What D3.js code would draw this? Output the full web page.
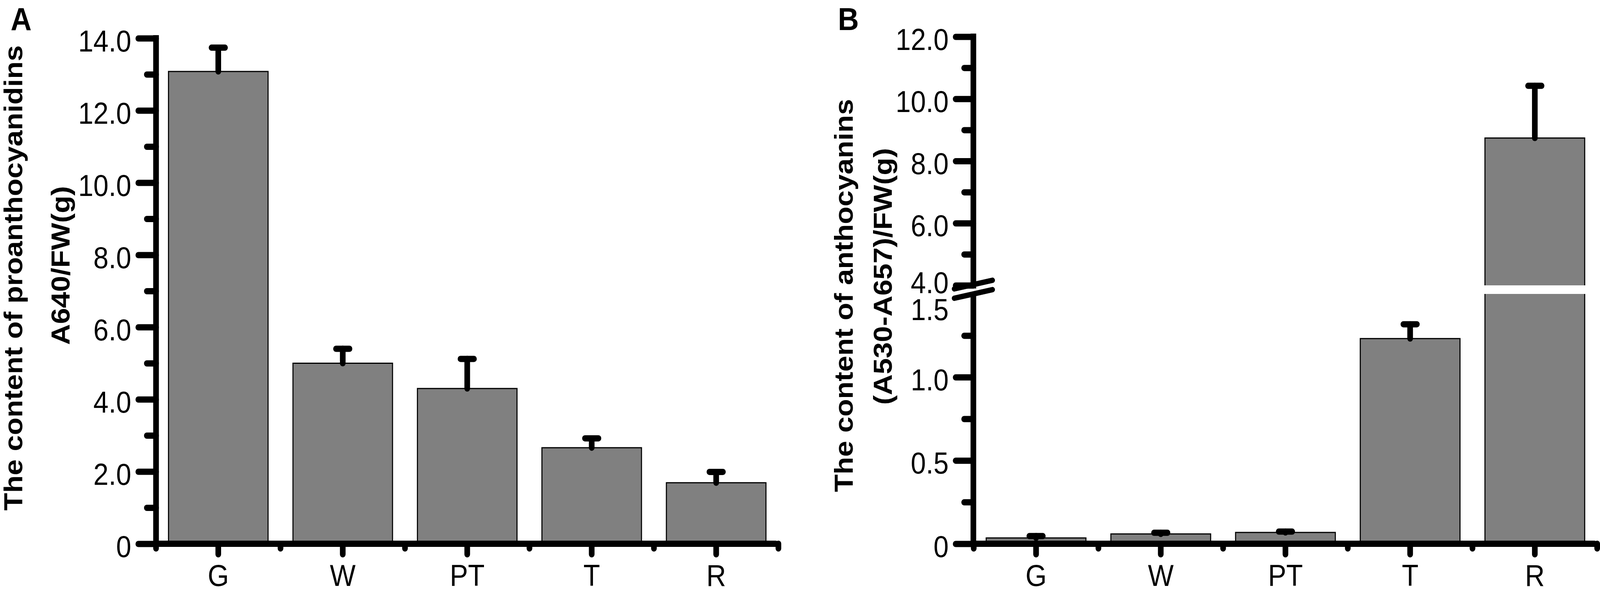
<!DOCTYPE html>
<html lang="en">
<head>
    <meta charset="UTF-8">
    <title>Proanthocyanidins and anthocyanins</title>
    <script src="https://d3js.org/d3.v7.min.js"></script>
    <style>
        html, body { margin: 0; padding: 0; background: #fff; overflow: hidden; }
        #chart-container { width: 100vw; height: 100vh; }
        svg { display: block; font-family: "Liberation Sans", Arial, sans-serif; }
    </style>
</head>
<body>
    <div id="chart-container"></div>

    <script>
        // categories and values
        const categories = ["G", "W", "PT", "T", "R"];

        // panel A: proanthocyanidins, A640/FW(g)
        const proMeans  = [13.08, 5.00, 4.30, 2.66, 1.69];
        const proErrors = [0.66, 0.40, 0.82, 0.26, 0.30];
        const proTicks  = [0, 2, 4, 6, 8, 10, 12, 14];
        const proMinor  = [1, 3, 5, 7, 9, 11, 13];

        // panel B: anthocyanins, (A530-A657)/FW(g), broken axis
        const antMeans  = [0.035, 0.059, 0.068, 1.232, 8.74];
        const antErrors = [0.011, 0.007, 0.005, 0.086, 1.68];
        const antTicksLow  = [0, 0.5, 1.0, 1.5];
        const antMinorLow  = [0.25, 0.75, 1.25];
        const antTicksHigh = [4, 6, 8, 10, 12];
        const antMinorHigh = [5, 7, 9, 11];

        const containerWidth = 4522;
        const containerHeight = 1514;
        const axisY = 1393;      // y of the zero line
        const lineW = 16;        // thick axis strokes
        const fmt = d => d === 0 ? "0" : d.toFixed(1);

        // viewBox so the drawing always fills the window whatever its css size
        const svg = d3.select("#chart-container")
            .append("svg")
            .attr("viewBox", `0 0 ${containerWidth} ${containerHeight}`)
            .attr("preserveAspectRatio", "none")
            .style("width", "100vw")
            .style("height", "100vh");

        svg.append("rect")
            .attr("width", containerWidth)
            .attr("height", containerHeight)
            .attr("fill", "#fff");

        // scales
        const xA = d3.scaleBand().domain(categories).range([441, 2200])
            .paddingInner(0.2).paddingOuter(0.1);
        const yA = d3.scaleLinear().domain([0, 14]).range([axisY, 98]);

        const xB = d3.scaleBand().domain(categories).range([2752, 4514])
            .paddingInner(0.2).paddingOuter(0.1);
        // piecewise scale: 0-1.5 at the bottom, 4-12 above the break
        const yB = d3.scaleLinear().domain([0, 1.5, 4, 12]).range([axisY, 753, 731, 94]);

        function drawBars(x, y, means, errors) {
            const rows = categories.map((c, i) => ({ c: c, v: means[i], e: errors[i] }));
            const g = svg.append("g");
            g.selectAll(".bar")
                .data(rows)
                .enter()
                .append("rect")
                .attr("class", "bar")
                .attr("x", d => x(d.c))
                .attr("width", x.bandwidth())
                .attr("y", d => y(d.v))
                .attr("height", d => y(0) - y(d.v))
                .style("fill", "#808080")
                .style("stroke", "#000")
                .style("stroke-width", 3);
            return rows;
        }

        function drawErrors(x, y, rows) {
            const g = svg.append("g")
                .style("stroke", "#000")
                .style("stroke-width", lineW)
                .style("stroke-linecap", "round");
            g.selectAll(".stem")
                .data(rows)
                .enter()
                .append("line")
                .attr("x1", d => x(d.c) + x.bandwidth() / 2)
                .attr("x2", d => x(d.c) + x.bandwidth() / 2)
                .attr("y1", d => y(d.v))
                .attr("y2", d => y(d.v + d.e));
            g.selectAll(".cap")
                .data(rows)
                .enter()
                .append("line")
                .attr("x1", d => x(d.c) + x.bandwidth() / 2 - 19)
                .attr("x2", d => x(d.c) + x.bandwidth() / 2 + 19)
                .attr("y1", d => y(d.v + d.e))
                .attr("y2", d => y(d.v + d.e));
        }

        function styleAxis(g) {
            g.select(".domain").remove();
            g.attr("font-family", null).attr("font-size", null);
            g.selectAll("line")
                .style("stroke", "#000")
                .style("stroke-width", lineW)
                .style("stroke-linecap", "round");
            g.selectAll("text")
                .style("font-size", "77px")
                .style("fill", "#000");
        }

        function yTicks(x0, y, major, minor) {
            const gMaj = svg.append("g")
                .attr("transform", `translate(${x0},0)`)
                .call(d3.axisLeft(y).tickValues(major).tickSize(50).tickPadding(20).tickFormat(fmt))
                .call(styleAxis);
            gMaj.selectAll("text").attr("dy", "0.43em");
            svg.append("g")
                .attr("transform", `translate(${x0},0)`)
                .call(d3.axisLeft(y).tickValues(minor).tickSize(26).tickFormat(""))
                .call(styleAxis);
            return gMaj;
        }

        function xTicks(x) {
            const gx = svg.append("g")
                .attr("transform", `translate(0,${axisY})`)
                .call(d3.axisBottom(x).tickSize(27).tickPadding(26))
                .call(styleAxis);
            // short ticks on the band edges
            const edges = d3.range(categories.length + 1).map(i => x.range()[0] + i * x.step());
            svg.append("g").selectAll("line")
                .data(edges)
                .enter()
                .append("line")
                .attr("x1", d => d).attr("x2", d => d)
                .attr("y1", axisY).attr("y2", axisY + 12)
                .style("stroke", "#000")
                .style("stroke-width", lineW)
                .style("stroke-linecap", "round");
            svg.append("line")
                .attr("x1", x.range()[0]).attr("x2", x.range()[1] - 8)
                .attr("y1", axisY).attr("y2", axisY)
                .style("stroke", "#000")
                .style("stroke-width", lineW)
                .style("stroke-linecap", "round");
            return gx;
        }

        function vLine(x0, yTop, yBot) {
            svg.append("line")
                .attr("x1", x0).attr("x2", x0)
                .attr("y1", yTop).attr("y2", yBot)
                .style("stroke", "#000")
                .style("stroke-width", lineW)
                .style("stroke-linecap", "square");
        }

        function axisTitle(x0, yc, txt) {
            svg.append("text")
                .attr("transform", `translate(${x0},${yc}) rotate(-90)`)
                .attr("text-anchor", "middle")
                .style("font-size", "74px")
                .style("font-weight", "bold")
                .text(txt);
        }

        // ---------- panel A ----------
        const rowsA = drawBars(xA, yA, proMeans, proErrors);
        drawErrors(xA, yA, rowsA);
        vLine(441, yA(14), yA(0));
        yTicks(441, yA, proTicks, proMinor);
        xTicks(xA);
        axisTitle(63, 712, "The content of proanthocyanidins");
        axisTitle(197, 680, "A640/FW(g)");
        svg.append("text")
            .attr("x", 30).attr("y", 77)
            .style("font-size", "82px")
            .style("font-weight", "bold")
            .text("A");

        // ---------- panel B ----------
        const rowsB = drawBars(xB, yB, antMeans, antErrors);
        // white gap through bars that cross the break
        svg.append("g").selectAll(".gap")
            .data(rowsB.filter(d => d.v > 4))
            .enter()
            .append("rect")
            .attr("x", d => xB(d.c) - 4)
            .attr("width", xB.bandwidth() + 8)
            .attr("y", yB(4))
            .attr("height", yB(1.5) - yB(4))
            .style("fill", "#fff");
        drawErrors(xB, yB, rowsB);

        const axBx = 2751;
        vLine(axBx, yB(12), yB(4));
        vLine(axBx, yB(1.5) + 6, yB(0));
        const gHigh = yTicks(axBx, yB, antTicksHigh, antMinorHigh);
        const gLow = yTicks(axBx, yB, antTicksLow, antMinorLow);
        // 1.5 tick hidden under the break marks, labels nudged apart
        gLow.selectAll(".tick").filter(d => d === 1.5).select("line").remove();
        gLow.selectAll(".tick").filter(d => d === 1.5).select("text").attr("dy", "0.87em");
        gHigh.selectAll(".tick").filter(d => d === 4).select("text").attr("dy", "0.25em");

        // break marks
        svg.append("g").selectAll(".brk")
            .data([yB(4) - 2, yB(1.5)])
            .enter()
            .append("line")
            .attr("x1", axBx - 54).attr("x2", axBx + 54)
            .attr("y1", d => d + 11).attr("y2", d => d - 11)
            .style("stroke", "#000")
            .style("stroke-width", 14)
            .style("stroke-linecap", "round");

        xTicks(xB);
        axisTitle(2410, 757, "The content of anthocyanins");
        axisTitle(2520, 708, "(A530-A657)/FW(g)");
        svg.append("text")
            .attr("x", 2368).attr("y", 77)
            .style("font-size", "82px")
            .style("font-weight", "bold")
            .text("B");
    </script>
</body>
</html>
